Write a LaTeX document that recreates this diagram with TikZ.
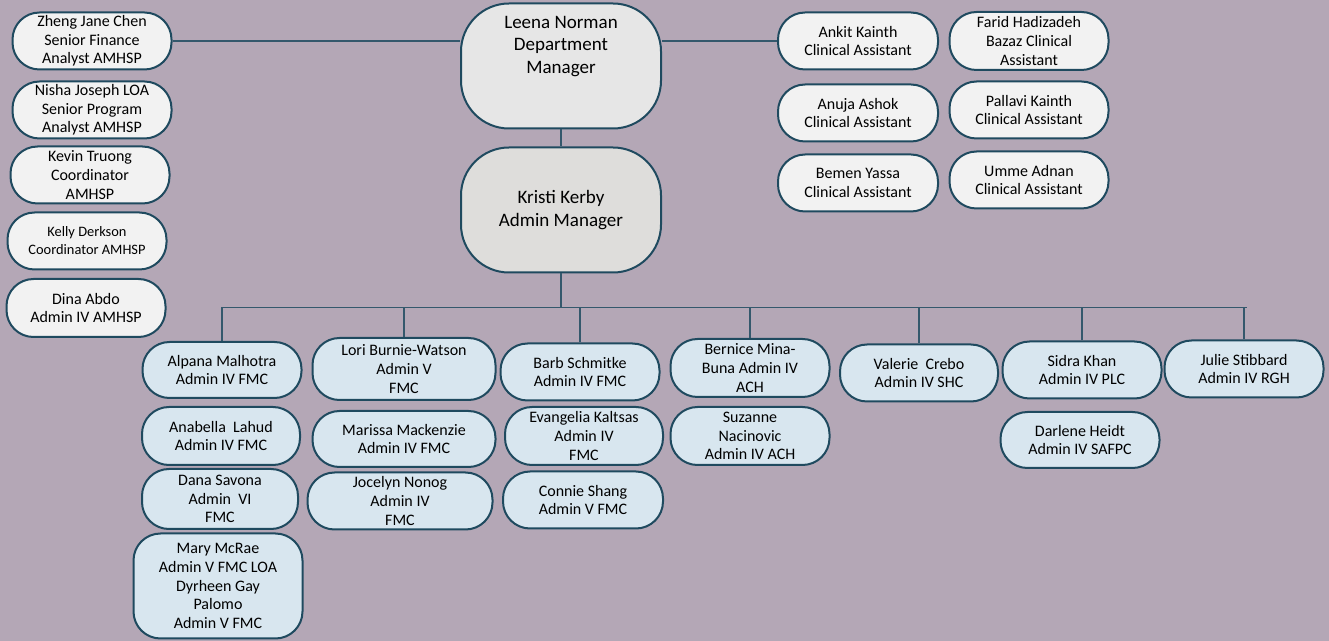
\documentclass[tikz,border=0pt]{standalone}
\usepackage{fontspec}
\setmainfont{Carlito}
\usetikzlibrary{calc}
\definecolor{backmauve}{HTML}{B4A7B6}
\definecolor{edgeteal}{HTML}{1F4A5F}
\definecolor{linkteal}{HTML}{34586C}
\definecolor{boxgray}{HTML}{F2F2F2}
\definecolor{boxblue}{HTML}{D8E6EF}
\definecolor{leenagray}{HTML}{E6E6E6}
\definecolor{kristigray}{HTML}{DEDDDB}
\newcommand{\boxfont}{\fontsize{8}{9.3}\selectfont}
\tikzset{
  staffbox/.style={draw=edgeteal,line width=1pt,fill=boxgray,rounded corners=13.5pt,
    minimum width=79.5pt,minimum height=28.5pt,inner sep=1pt,align=center,font=\boxfont},
  adminbox/.style={staffbox,fill=boxblue},
  headbox/.style={staffbox,rounded corners=24pt,minimum width=100pt,minimum height=62.5pt,
    font=\fontsize{9.5}{11.5}\selectfont},
  link/.style={draw=linkteal,line width=0.6pt}
}
\begin{document}
\begin{tikzpicture}[x=0.5pt,y=-0.5pt]
\fill[backmauve] (0,0) rectangle (1329,641);
\useasboundingbox (0,0) rectangle (1329,641);
% managers
\node[headbox,fill=leenagray,
  label={[anchor=north,align=center,inner sep=0pt,yshift=-6.5pt,
  font=\fontsize{9.5}{11.3}\selectfont]north:Leena Norman\\Department\\Manager}]
  (leena) at (561,66) {};
\node[headbox,fill=kristigray] (kristi) at (561,210) {Kristi Kerby\\Admin Manager};
% left column
\node[staffbox] (zheng) at (92,41) {Zheng Jane Chen\\Senior Finance\\Analyst AMHSP};
\node[staffbox] (nisha) at (92,110) {Nisha Joseph LOA\\Senior Program\\Analyst AMHSP};
\node[staffbox] (kevin) at (90,175) {Kevin Truong\\Coordinator\\AMHSP};
\node[staffbox,font=\fontsize{7.2}{9}\selectfont] (kelly) at (87,241) {Kelly Derkson\\Coordinator AMHSP};
\node[staffbox,minimum height=29pt] (dina) at (86,308) {Dina Abdo\\Admin IV AMHSP};
% clinical assistants
\node[staffbox,minimum width=80pt] (ankit) at (858,41) {Ankit Kainth\\Clinical Assistant};
\node[staffbox,minimum width=80pt] (anuja) at (858,113) {Anuja Ashok\\Clinical Assistant};
\node[staffbox,minimum width=80pt] (bemen) at (858,183) {Bemen Yassa\\Clinical Assistant};
\node[staffbox,minimum height=29pt] (farid) at (1029,41) {Farid Hadizadeh\\Bazaz Clinical\\Assistant};
\node[staffbox] (pallavi) at (1029,110) {Pallavi Kainth\\Clinical Assistant};
\node[staffbox] (umme) at (1029,180) {Umme Adnan\\Clinical Assistant};
% admin staff
\node[adminbox,minimum height=28pt] (alpana) at (222,370) {Alpana Malhotra\\Admin IV FMC};
\node[adminbox,minimum width=79pt,minimum height=29pt] (anabella) at (221,436) {Anabella~ Lahud\\Admin IV FMC};
\node[adminbox,minimum width=78pt,minimum height=30pt] (dana) at (220,499) {Dana Savona\\Admin~ VI\\FMC};
\node[adminbox,minimum width=84.5pt,minimum height=52.5pt] (mary) at (218,586)
  {Mary McRae\\Admin V FMC LOA\\Dyrheen Gay\\Palomo\\Admin V FMC};
\node[adminbox,minimum width=91.5pt,minimum height=31pt] (lori) at (404,369) {Lori Burnie-Watson\\Admin V\\FMC};
\node[adminbox,minimum width=91.5pt,minimum height=28pt] (marissa) at (404,439) {Marissa Mackenzie\\Admin IV FMC};
\node[adminbox,minimum width=92.5pt] (jocelyn) at (400,501) {Jocelyn Nonog\\Admin IV\\FMC};
\node[adminbox] (barb) at (580,372) {Barb Schmitke\\Admin IV FMC};
\node[adminbox,minimum width=79pt,minimum height=29pt] (evangelia) at (584,436) {Evangelia Kaltsas\\Admin IV\\FMC};
\node[adminbox,minimum width=80pt] (connie) at (583,500) {Connie Shang\\Admin V FMC};
\node[adminbox,minimum height=29pt] (bernice) at (750,368) {Bernice Mina-\\Buna Admin IV\\ACH};
\node[adminbox,minimum height=29pt] (suzanne) at (750,436) {Suzanne\\Nacinovic\\Admin IV ACH};
\node[adminbox,minimum width=79pt] (valerie) at (919,373) {Valerie~ Crebo\\Admin IV SHC};
\node[adminbox] (sidra) at (1082,370) {Sidra Khan\\Admin IV PLC};
\node[adminbox,minimum height=28pt] (darlene) at (1080,440) {Darlene Heidt\\Admin IV SAFPC};
\node[adminbox] (julie) at (1244,369) {Julie Stibbard\\Admin IV RGH};
% connectors
\draw[link] (zheng.east) -- (zheng.east -| leena.west);
\draw[link] (ankit.west) -- (ankit.west -| leena.east);
\draw[link] (leena) -- (kristi);
\coordinate (bus) at ($(kristi.south)+(0,34)$);
\draw[link] (kristi.south) -- (bus);
\draw[link] (alpana.north |- bus) -- ($(julie.north |- bus)+(3,0)$);
\foreach \n in {alpana,lori,barb,bernice,valerie,sidra,julie}
  \draw[link] (\n.north) -- (\n.north |- bus);
\end{tikzpicture}
\end{document}
